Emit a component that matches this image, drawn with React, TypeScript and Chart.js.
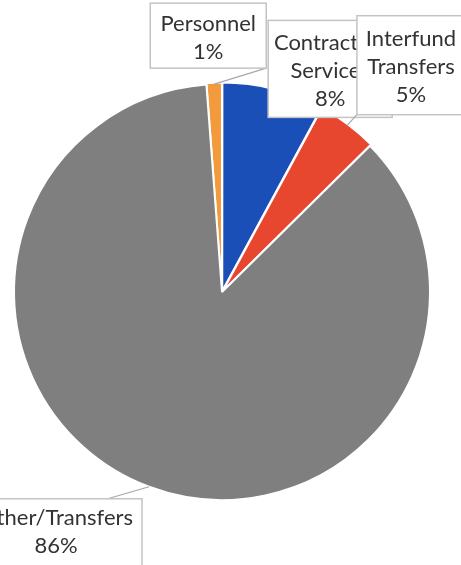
import React, { useEffect, useRef } from "react";
import { Chart, registerables } from "chart.js";

Chart.register(...registerables);

const categories = ["Personnel", "Contractual Services", "Interfund Transfers", "Other/Transfers"];
const values = [1.2, 7.9, 4.7, 86.2];
const percentLabels = ["1%", "8%", "5%", "86%"];
const labelLines = [["Personnel"], ["Contractual", "Services"], ["Interfund", "Transfers"], ["Other/Transfers"]];
const colors = ["#f39a3c", "#1b4fb8", "#e8472f", "#7f7f7f"];

// label box layout (offset of box centre from the slice's outer mid point, box size, leader target as fraction of box)
const boxLayout = [
  { dx: -6, dy: -48.5, w: 116, h: 65, textDy: 2, leader: [1.0, 1.0] },
  { dx: 57, dy: -21.5, w: 124, h: 97, textDy: 2, leader: null },
  { dx: 64, dy: -60.5, w: 108, h: 99, textDy: 2, leader: [0, 1.0] },
  { dx: -93, dy: 47.5, w: 172, h: 71, textDy: -2, leader: [0.8, 0] },
];

const FONT = "22px Lato, 'Open Sans', sans-serif";
const LINE_H = 28;

const labelPlugin = {
  id: "calloutLabels",
  afterDatasetsDraw(chart: any) {
    const ctx = chart.ctx;
    const meta = chart.getDatasetMeta(0);
    meta.data.forEach((arc: any, i: number) => {
      const p = arc.getProps(["x", "y", "startAngle", "endAngle", "outerRadius"], true);
      const mid = (p.startAngle + p.endAngle) / 2;
      const ax = p.x + Math.cos(mid) * p.outerRadius;
      const ay = p.y + Math.sin(mid) * p.outerRadius;
      const L = boxLayout[i];
      const cx = ax + L.dx;
      const cy = ay + L.dy;
      const left = cx - L.w / 2;
      const top = cy - L.h / 2;
      ctx.save();
      if (L.leader) {
        ctx.strokeStyle = "#a8a8a8";
        ctx.lineWidth = 1.2;
        ctx.beginPath();
        ctx.moveTo(ax, ay);
        ctx.lineTo(left + L.leader[0] * L.w, top + L.leader[1] * L.h);
        ctx.stroke();
      }
      ctx.fillStyle = "#ffffff";
      ctx.fillRect(left, top, L.w, L.h);
      ctx.strokeStyle = "#c4c4c4";
      ctx.lineWidth = 1.5;
      ctx.strokeRect(left, top, L.w, L.h);
      const lines = [...labelLines[i], percentLabels[i]];
      ctx.fillStyle = "#333333";
      ctx.font = FONT;
      ctx.textAlign = "center";
      ctx.textBaseline = "middle";
      const startY = cy + L.textDy - ((lines.length - 1) * LINE_H) / 2;
      lines.forEach((t, k) => ctx.fillText(t, cx, startY + k * LINE_H));
      ctx.restore();
    });
  },
};

export default function App() {
  const ref = useRef<HTMLCanvasElement>(null);
  useEffect(() => {
    if (!ref.current) return;
    const chart = new Chart(ref.current, {
      type: "pie",
      data: {
        labels: categories,
        datasets: [
          {
            data: values,
            backgroundColor: colors,
            borderColor: "#ffffff",
            borderWidth: 2,
            offset: [3, 4, 4, 0],
          },
        ],
      },
      options: {
        responsive: false,
        animation: false,
        rotation: -4.3,
        layout: { padding: { left: 11, right: 28, top: 81, bottom: 62 } },
        plugins: {
          legend: { display: false },
          tooltip: { enabled: false },
        },
      },
      plugins: [labelPlugin],
    });
    return () => chart.destroy();
  }, []);
  return (
    <div style={{ position: "absolute", left: 0, top: 0, width: 461, height: 565, background: "#fff", overflow: "hidden" }}>
      <canvas ref={ref} width={461} height={565} />
    </div>
  );
}
